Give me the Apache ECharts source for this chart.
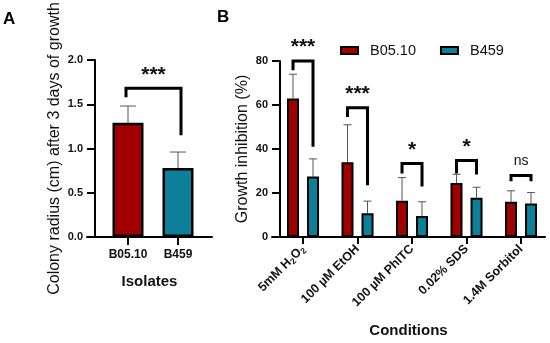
<!DOCTYPE html>
<html>
<head>
<meta charset="utf-8">
<script src="https://cdn.jsdelivr.net/npm/echarts@6/dist/echarts.min.js"></script>
<style>html,body{margin:0;padding:0;background:#fff;}#c{width:550px;height:343px;}</style>
</head>
<body>
<div id="c"></div>
<script>
// ---- Panel A data ----
const isolates = ['B05.10', 'B459'];
const radiusMean = [1.29, 0.78];
const radiusSD = [0.19, 0.18];
const sigATop = [1.68];
const sigALeftBottom = [1.58];
const sigARightBottom = [1.15];
const sigALabels = ['***'];
const radiusTicks = [0, 0.5, 1.0, 1.5, 2.0];

// ---- Panel B data ----
const conditions = ['5mM H2O2', '100 µM EtOH', '100 µM PhITC', '0.02% SDS', '1.4M Sorbitol'];
const b0510Mean = [63, 34, 16.5, 24.5, 16];
const b0510SD = [11, 17, 10.5, 4, 5];
const b459Mean = [27.5, 10.8, 9.5, 17.8, 15.2];
const b459SD = [8, 5.5, 6.5, 4.8, 5];
const sigBTop = [80, 58.7, 33.4, 34.8, 28];
const sigBLeftBottom = [75.8, 54.6, 28.9, 28.9, 25.3];
const sigBRightBottom = [41, 23.5, 23, 28.4, 25.3];
const sigBLabels = ['***', '***', '*', '*', 'ns'];
const inhibitionTicks = [0, 20, 40, 60, 80];

const RED = '#A10000';
const TEAL = '#0E7F98';
const FONT = '"Liberation Sans", Arial, sans-serif';

function errorRender(dx, cap) {
  return function (params, api) {
    const x = api.value(0), m = api.value(1), sd = api.value(2);
    const p0 = api.coord([x, m]);
    const p1 = api.coord([x, m + sd]);
    const cx = p0[0] + dx;
    return {
      type: 'group',
      children: [
        { type: 'line', shape: { x1: cx, y1: p0[1], x2: cx, y2: p1[1] }, style: { stroke: '#555', lineWidth: 1 } },
        { type: 'line', shape: { x1: cx - cap, y1: p1[1], x2: cx + cap, y2: p1[1] }, style: { stroke: '#555', lineWidth: 1 } }
      ]
    };
  };
}

function bracketRender(labels, dxL, dxR) {
  return function (params, api) {
    const xa = api.value(0), xb = api.value(1), top = api.value(2), lb = api.value(3), rb = api.value(4);
    const pl = api.coord([xa, lb]);
    const pt = api.coord([xa, top]);
    const pr = api.coord([xb, rb]);
    const xl = pl[0] + dxL, xr = pr[0] + dxR;
    const lab = labels[params.dataIndex];
    const isNs = lab === 'ns';
    return {
      type: 'group',
      children: [
        { type: 'polyline', shape: { points: [[xl, pl[1]], [xl, pt[1]], [xr, pt[1]], [xr, pr[1]]] },
          style: { stroke: '#000', lineWidth: 3, fill: null, lineJoin: 'miter', lineCap: 'butt' } },
        { type: 'text', style: { text: lab, x: (xl + xr) / 2, y: pt[1] - (isNs ? 7 : 3),
          align: 'center', verticalAlign: 'bottom',
          font: (isNs ? 'normal 14px ' : 'bold 21px ') + FONT, fill: '#111' } }
      ]
    };
  };
}

const chart = echarts.init(document.getElementById('c'), null, { renderer: 'canvas' });

const axisLineStyle = { color: '#000', width: 2 };
const tickLabel = { fontFamily: FONT, fontWeight: 'bold', fontSize: 11, color: '#111' };

chart.setOption({
  animation: false,
  backgroundColor: '#fff',
  title: [
    { text: 'A', left: 3, top: 11, padding: 0, textStyle: { fontFamily: FONT, fontWeight: 'bold', fontSize: 17, color: '#000' } },
    { text: 'B', left: 217, top: 9, padding: 0, textStyle: { fontFamily: FONT, fontWeight: 'bold', fontSize: 17, color: '#000' } }
  ],
  legend: {
    data: ['B05.10', 'B459'],
    left: 335, top: 38,
    itemWidth: 17, itemHeight: 7, itemGap: 24, icon: 'rect',
    textStyle: { fontFamily: FONT, fontSize: 14.5, color: '#111', padding: [0, 0, 0, 7] }
  },
  grid: [
    { left: 87, width: 125, top: 60, height: 177 },
    { left: 272, width: 273, top: 61, height: 177 }
  ],
  xAxis: [
    {
      gridIndex: 0, type: 'value', min: -0.82, max: 1.68,
      name: 'Isolates', nameLocation: 'middle', nameGap: 37,
      nameTextStyle: { fontFamily: FONT, fontWeight: 'bold', fontSize: 15, color: '#111' },
      axisLine: { show: true, onZero: false, lineStyle: axisLineStyle },
      axisTick: { show: true, length: 8, lineStyle: { color: '#000', width: 2 }, customValues: [0, 1] },
      axisLabel: Object.assign({}, tickLabel, { customValues: [0, 1], margin: 12, fontSize: 12, formatter: v => isolates[Math.round(v)] }),
      splitLine: { show: false }
    },
    {
      gridIndex: 1, type: 'value', min: -0.569, max: 4.44,
      name: 'Conditions', nameLocation: 'middle', nameGap: 86,
      nameTextStyle: { fontFamily: FONT, fontWeight: 'bold', fontSize: 15, color: '#111' },
      axisLine: { show: true, onZero: false, lineStyle: axisLineStyle },
      axisTick: { show: true, length: 7, lineStyle: { color: '#000', width: 2 }, customValues: [0, 1, 2, 3, 4] },
      axisLabel: Object.assign({}, tickLabel, {
        customValues: [0, 1, 2, 3, 4], rotate: 45, margin: 10,
        formatter: function (v) {
          const s = conditions[Math.round(v)];
          if (s === '5mM H2O2') return '{n|5mM H}{s|2}{n|O}{s|2}';
          return '{n|' + s + '}';
        },
        rich: {
          n: { fontFamily: FONT, fontWeight: 'bold', fontSize: 12.5, color: '#111' },
          s: { fontFamily: FONT, fontWeight: 'bold', fontSize: 8.5, color: '#111', padding: [7, 0, 0, 0] }
        }
      }),
      splitLine: { show: false }
    }
  ],
  yAxis: [
    {
      gridIndex: 0, type: 'value', min: 0, max: 2, interval: 0.5, offset: -8,
      name: 'Colony radius (cm) after 3 days of growth', nameLocation: 'middle', nameGap: 32,
      nameTextStyle: { fontFamily: FONT, fontSize: 16, color: '#111' },
      axisLine: { show: true, onZero: false, lineStyle: axisLineStyle },
      axisTick: { show: true, length: 8, lineStyle: { color: '#000', width: 2 } },
      axisLabel: Object.assign({ margin: 12, formatter: v => v.toFixed(1) }, tickLabel),
      splitLine: { show: false }
    },
    {
      gridIndex: 1, type: 'value', min: 0, max: 80, interval: 20, offset: -8,
      name: 'Growth inhibition (%)', nameLocation: 'middle', nameGap: 29,
      nameTextStyle: { fontFamily: FONT, fontSize: 16, color: '#111' },
      axisLine: { show: true, onZero: false, lineStyle: axisLineStyle },
      axisTick: { show: true, length: 8, lineStyle: { color: '#000', width: 2 } },
      axisLabel: Object.assign({ margin: 12 }, tickLabel),
      splitLine: { show: false }
    }
  ],
  series: [
    // Panel A
    {
      name: 'Colony radius', type: 'bar', xAxisIndex: 0, yAxisIndex: 0, barWidth: 31, z: 3,
      itemStyle: { borderColor: '#000', borderWidth: 2.5 },
      data: radiusMean.map((v, i) => ({ value: [i, v], itemStyle: { color: i === 0 ? RED : TEAL } }))
    },
    {
      type: 'custom', xAxisIndex: 0, yAxisIndex: 0, z: 1,
      renderItem: errorRender(0, 8),
      data: radiusMean.map((v, i) => [i, v, radiusSD[i]])
    },
    {
      type: 'custom', xAxisIndex: 0, yAxisIndex: 0, z: 4,
      renderItem: bracketRender(sigALabels, -2, 3),
      data: sigATop.map((t, i) => [0, 1, t, sigALeftBottom[i], sigARightBottom[i]])
    },
    // Panel B
    {
      name: 'B05.10', type: 'bar', xAxisIndex: 1, yAxisIndex: 1, barWidth: 12, barGap: '67%', z: 3,
      itemStyle: { color: RED, borderColor: '#000', borderWidth: 2 },
      data: b0510Mean.map((v, i) => [i, v])
    },
    {
      name: 'B459', type: 'bar', xAxisIndex: 1, yAxisIndex: 1, barWidth: 12, barGap: '67%', z: 3,
      itemStyle: { color: TEAL, borderColor: '#000', borderWidth: 2 },
      data: b459Mean.map((v, i) => [i, v])
    },
    {
      type: 'custom', xAxisIndex: 1, yAxisIndex: 1, z: 1,
      renderItem: errorRender(-10, 4),
      data: b0510Mean.map((v, i) => [i, v, b0510SD[i]])
    },
    {
      type: 'custom', xAxisIndex: 1, yAxisIndex: 1, z: 1,
      renderItem: errorRender(10, 4),
      data: b459Mean.map((v, i) => [i, v, b459SD[i]])
    },
    {
      type: 'custom', xAxisIndex: 1, yAxisIndex: 1, z: 4,
      renderItem: bracketRender(sigBLabels, -10, 10),
      data: sigBTop.map((t, i) => [i, i, t, sigBLeftBottom[i], sigBRightBottom[i]])
    }
  ]
});
</script>
</body>
</html>
